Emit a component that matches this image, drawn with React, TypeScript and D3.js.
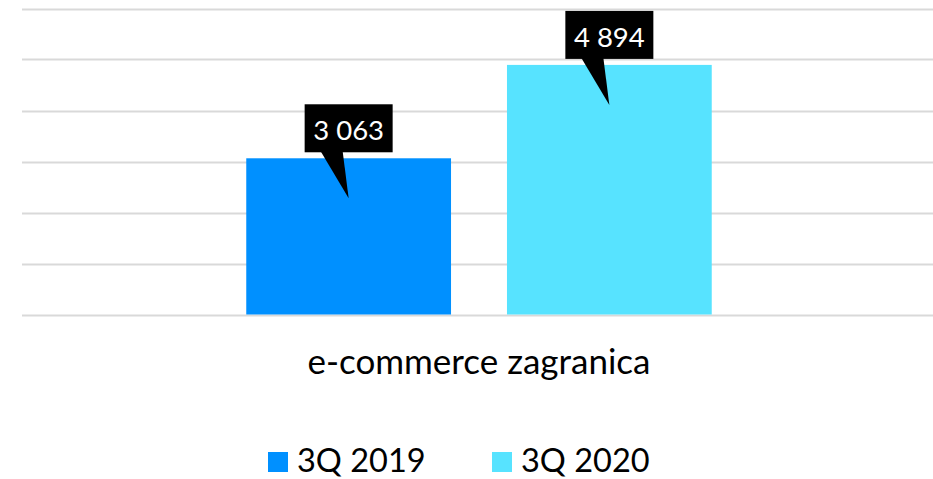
import React from "react";
import * as d3 from "d3";

const categories = ["e-commerce zagranica"];
const series = ["3Q 2019", "3Q 2020"];
const values2019 = [3063];
const values2020 = [4894];
const colors = ["#0090FF", "#57E3FF"];
const yTicks = [0, 1000, 2000, 3000, 4000, 5000, 6000];

const W = 933;
const H = 479;
const FONT = "Lato, 'Noto Sans', sans-serif";

const fmt = (v: number) => d3.format(",")(v).replace(/,/g, " ");

export default function App() {
  const y = d3.scaleLinear().domain([0, 6000]).range([314.5, 8.5]);
  const x0 = d3.scaleBand().domain(categories).range([24, 934]).paddingOuter(0.4775).paddingInner(0);
  const x1 = d3.scaleBand().domain(series).range([0, x0.bandwidth()]).paddingInner(0.2146).paddingOuter(0);
  const seriesValues = [values2019, values2020];

  const bw = x1.bandwidth();
  return (
    <svg width={W} height={H} style={{ position: "fixed", left: 0, top: 0, display: "block", background: "#fff" }}>
      {yTicks.map((t) => (
        <line key={t} x1={22} x2={W} y1={Math.round(y(t)) + 0.5} y2={Math.round(y(t)) + 0.5} stroke="#D9D9D9" strokeWidth={2} />
      ))}
      {categories.map((c, ci) =>
        series.map((s, si) => {
          const v = seriesValues[si][ci];
          const bx = (x0(c) as number) + (x1(s) as number);
          const top = y(v);
          const cx = bx + bw / 2;
          const boxW = 88;
          const boxH = 48;
          const boxBottom = top - 6;
          const boxTop = boxBottom - boxH;
          const tail = [
            [cx - 28, boxBottom - 1],
            [cx - 6, boxBottom - 1],
            [cx, top + 40],
          ];
          return (
            <g key={s}>
              <rect x={bx} y={top} width={bw} height={y(0) - top} fill={colors[si]} />
              <rect x={cx - boxW / 2} y={boxTop} width={boxW} height={boxH} fill="#000" />
              <polygon points={tail.map((p) => p.join(",")).join(" ")} fill="#000" />
              <text x={cx} y={boxTop + 36} textAnchor="middle" fill="#fff" fontFamily={FONT} fontSize={27.5}>
                {fmt(v)}
              </text>
            </g>
          );
        })
      )}
      {categories.map((c) => (
        <text key={c} x={(x0(c) as number) + x0.bandwidth() / 2} y={374} textAnchor="middle" fill="#000" fontFamily={FONT} fontSize={35}>
          {c}
        </text>
      ))}
      {series.map((s, si) => {
        const lx = 268 + si * 224;
        return (
          <g key={s}>
            <rect x={lx} y={452} width={20} height={20} fill={colors[si]} />
            <text x={lx + 29} y={472} fill="#000" fontFamily={FONT} fontSize={32.5}>
              {s}
            </text>
          </g>
        );
      })}
    </svg>
  );
}
